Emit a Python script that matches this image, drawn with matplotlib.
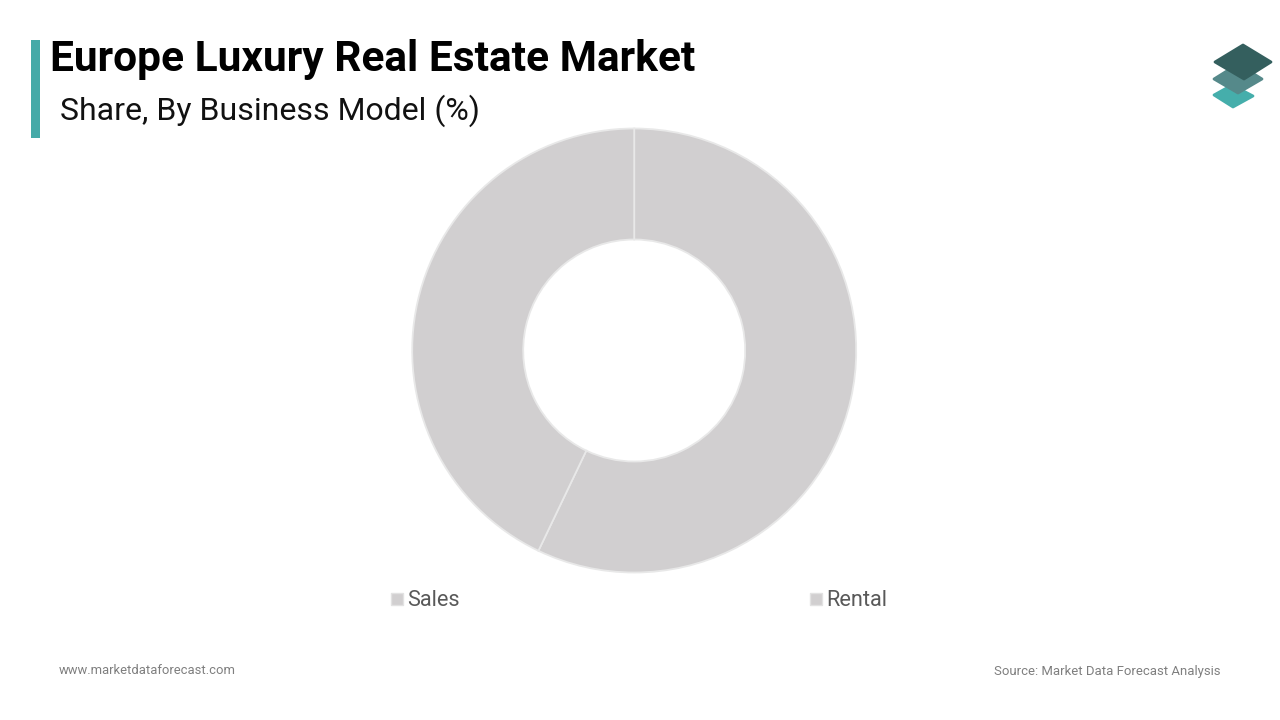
#!/usr/bin/env python3
import matplotlib
matplotlib.use("Agg")
import matplotlib.pyplot as plt
from matplotlib.patches import Polygon, Rectangle

plt.rcParams["font.family"] = ["Roboto", "DejaVu Sans"]

# --- Data ---
TITLE = "Europe Luxury Real Estate Market"
SUBTITLE = "Share, By Business Model (%)"
CATEGORIES = ["Sales", "Rental"]
SHARES = [57.1, 42.9]
COLORS = ["#d1cfd0", "#d1cfd0"]
SITE = "www.marketdataforecast.com"
SOURCE = "Source: Market Data Forecast Analysis"

# --- Layout (pixels) ---
W, H = 1280, 720
CX, CY, R = 634.2, 350.5, 222
LEGEND_X = [397, 816]
LEGEND_Y = 599

fig = plt.figure(figsize=(W / 100, H / 100), dpi=100, facecolor="white")

# overlay in pixel coords, y going down like the reference
bg = fig.add_axes([0, 0, 1, 1])
bg.set_xlim(0, W)
bg.set_ylim(H, 0)
bg.axis("off")

bg.add_patch(Rectangle((31, 40), 9, 98, fc="#45aaa8", ec="none"))
bg.text(50, 60, TITLE, fontsize=30.65, fontweight="bold", color="#000000", va="center", ha="left")
bg.text(60, 111, SUBTITLE, fontsize=23.0, color="#111111", va="center", ha="left")

# logo, bottom layer first (same colour edges give the rounded corners)
bg.add_patch(Polygon([(1214, 95), (1232, 85), (1253, 96), (1233, 107)], closed=True,
                     fc="#45aeab", ec="#45aeab", lw=2, joinstyle="round"))
bg.add_patch(Polygon([(1214, 79), (1238, 64), (1262, 79), (1238, 93)], closed=True,
                     fc="#55898a", ec="#55898a", lw=2, joinstyle="round"))
bg.add_patch(Polygon([(1215, 62), (1243, 45), (1271, 62), (1244, 79)], closed=True,
                     fc="#345f5e", ec="#345f5e", lw=2, joinstyle="round"))

# donut
ax = fig.add_axes([(CX - R) / W, 1 - (CY + R) / H, 2 * R / W, 2 * R / H])
ax.pie(SHARES, colors=COLORS, startangle=90, counterclock=False, radius=1.0,
       wedgeprops=dict(width=0.5, edgecolor="#e8e8e8", linewidth=1.3))
ax.set_xlim(-1, 1)
ax.set_ylim(-1, 1)
ax.set_aspect("equal")
for p in ax.patches:
    p.set_clip_on(False)

# legend
for name, color, x in zip(CATEGORIES, COLORS, LEGEND_X):
    bg.add_patch(Rectangle((x - 6, LEGEND_Y - 6), 12, 12, fc=color, ec="#e2e2e2", lw=1))
    bg.text(x + 10.5, LEGEND_Y + 2, name, fontsize=15.7, color="#595959", va="center", ha="left")

# footer
bg.text(59, 671, SITE, fontsize=9.34, color="#7f7f7f", va="center", ha="left")
bg.text(1221, 671, SOURCE, fontsize=9.48, color="#7f7f7f", va="center", ha="right")

fig.savefig("out.png", dpi=100, facecolor="white")
